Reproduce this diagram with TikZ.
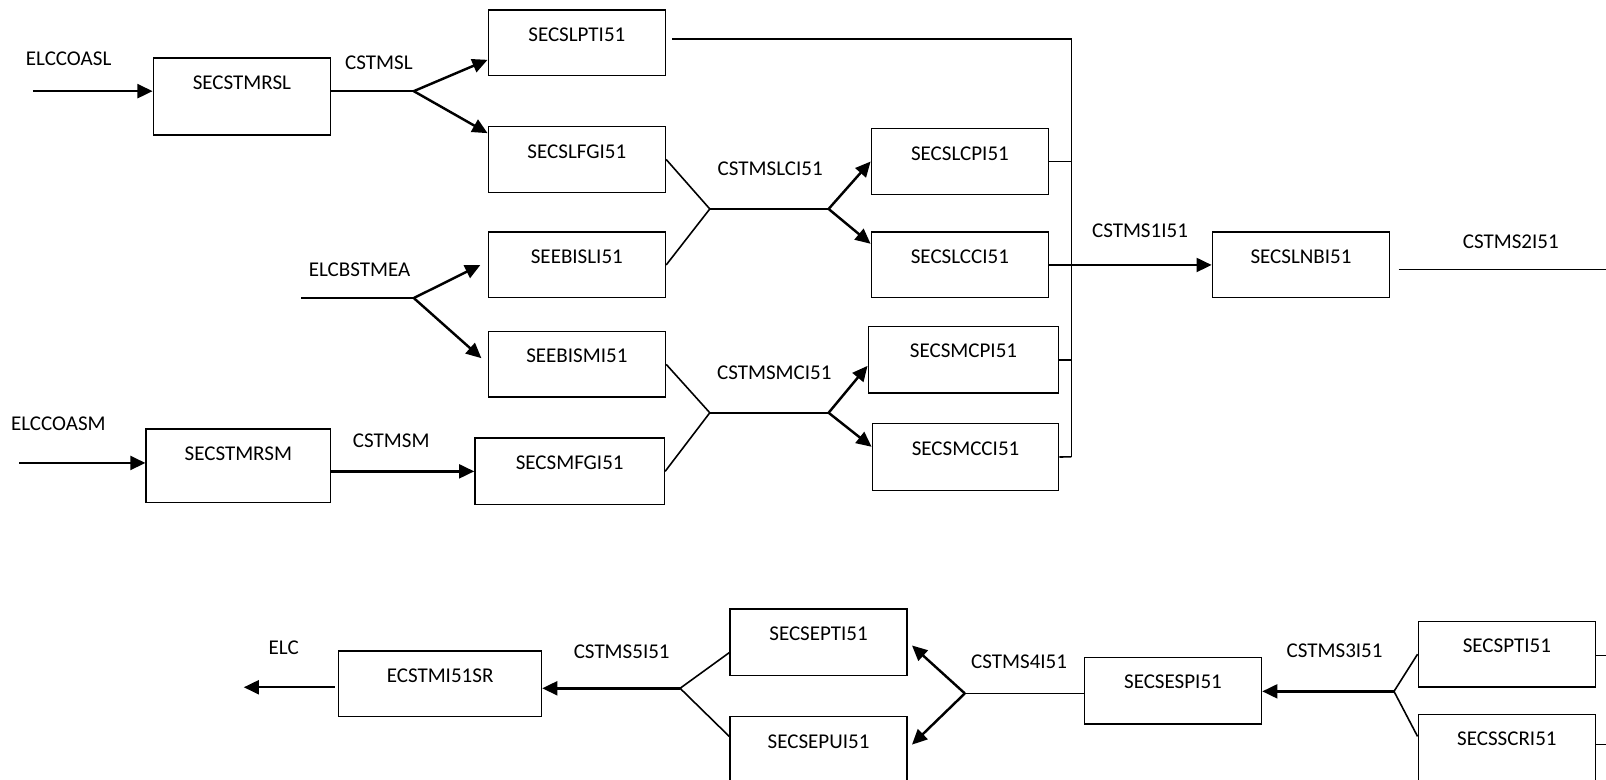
\documentclass[tikz,border=0pt]{standalone}
\usepackage{fontspec}
\setmainfont{Carlito}
\usepackage{tikz}
\usetikzlibrary{arrows.meta,positioning,calc}

\begin{document}
\begin{tikzpicture}[x=0.25mm, y=-0.25mm,
    font=\fontsize{14.6}{17}\selectfont,
    blk/.style={draw, line width=1pt, anchor=north west, inner xsep=0pt, inner ysep=0pt,
        minimum width=43.25mm, text height=7.65mm, text depth=8.35mm},
    lbl/.style={inner sep=0pt},
    thn/.style={line width=1.1pt},
    arr/.style={line width=1.7pt, -{Triangle[length=3.7mm,width=3.4mm]}}]
    \useasboundingbox (0,0) rectangle (1568,761);

    % Upper chain
    \node[blk, text depth=11.1mm] (stmrsl) at (149,56) {SECSTMRSL};
    \node[blk] (slpti) at (476,9) {SECSLPTI51};
    \node[blk] (slfgi) at (476,123) {SECSLFGI51};
    \node[blk] (ebisli) at (476,226) {SEEBISLI51};
    \node[blk] (ebismi) at (476,323) {SEEBISMI51};
    \node[blk, minimum width=46.25mm, text depth=8.6mm] (smfgi) at (463,427) {SECSMFGI51};
    \node[blk, minimum width=45mm, text depth=10.35mm] (stmrsm) at (142,418) {SECSTMRSM};
    \node[blk] (slcpi) at (850,125) {SECSLCPI51};
    \node[blk] (slcci) at (850,226) {SECSLCCI51};
    \node[blk, minimum width=46.5mm, text depth=8.6mm] (smcpi) at (847,318) {SECSMCPI51};
    \node[blk, minimum width=45.5mm, text depth=8.6mm] (smcci) at (851,413) {SECSMCCI51};
    \node[blk] (slnbi) at (1183,226) {SECSLNBI51};

    % Lower chain
    \node[blk, minimum width=49.5mm] (stmisr) at (330,635) {ECSTMI51SR};
    \node[blk, text depth=8.6mm] (septi) at (712,594) {SECSEPTI51};
    \node[blk, text depth=14.85mm] (sepui) at (712,699) {SECSEPUI51};
    \node[blk, text depth=8.6mm] (sespi) at (1058,641) {SECSESPI51};
    \node[blk] (spti) at (1384,606) {SECSPTI51};
    \node[blk, text depth=14.85mm] (sscri) at (1384,697) {SECSSCRI51};

    % Stream labels
    \foreach \nm/\x/\y in {ELCCOASL/67/57, CSTMSL/370/61, ELCBSTMEA/351/263,
        CSTMSLCI51/752/165, CSTMSMCI51/756/364, ELCCOASM/57/414, CSTMSM/382/430,
        CSTMS1I51/1113/225, CSTMS2I51/1475/236, ELC/277/632, CSTMS5I51/607/636,
        CSTMS4I51/995/646, CSTMS3I51/1303/635}
        \node[lbl] (\nm) at (\x,\y) {\nm};

    % Branch points and free ends
    \coordinate (in1) at (32,89);
    \coordinate (f1) at (404,89);
    \coordinate (in2) at (294,291);
    \coordinate (f2) at (404,291);
    \coordinate (f3) at (693,204);
    \coordinate (f4) at (809,204);
    \coordinate (f5) at (693,403);
    \coordinate (f6) at (809,403);
    \coordinate (in3) at (19,452);
    \coordinate (bt) at (1046,38);
    \coordinate (bb) at (1046,446);
    \coordinate (out2) at (1575,263);
    \coordinate (elc) at (238,671);
    \coordinate (f7) at (664,672);
    \coordinate (f8) at (942,677);
    \coordinate (f9) at (1361,675);
    \coordinate (r1) at (1575,640);
    \coordinate (r2) at (1575,727);

    % Upper connectors
    \draw[arr] (in1) -- (in1 -| stmrsl.west);
    \draw[thn] (f1 -| stmrsl.east) -- (f1);
    \draw[arr] (f1) -- ([yshift=4mm]slpti.south west);
    \draw[arr] (f1) -- ([yshift=-1.75mm]slfgi.north west);
    \draw[thn] ($(slpti.east |- bt)+(6,0)$) -- (bt) -- (bb);
    \draw[thn] (slcpi.east) -- (slcpi.east -| bt);
    \draw[thn] (smcpi.east) -- (smcpi.east -| bt);
    \draw[thn] (smcci.east) -- (bb);
    \draw[thn] (in2) -- (f2);
    \draw[arr] (f2) -- ([xshift=-1.75mm]ebisli.west);
    \draw[arr] (f2) -- ([xshift=-1.5mm,yshift=1.5mm]ebismi.west);
    \draw[thn] (slfgi.east) -- (f3) -- (ebisli.east);
    \draw[thn] (f3) -- (f4);
    \draw[arr] (f4) -- (slcpi.west);
    \draw[arr] (f4) -- ([yshift=-3mm]slcci.north west);
    \draw[thn] (ebismi.east) -- (f5) -- (smfgi.east);
    \draw[thn] (f5) -- (f6);
    \draw[arr] (f6) -- ([yshift=-1.5mm]smcpi.west);
    \draw[arr] (f6) -- ([yshift=2.5mm]smcci.west);
    \draw[arr] (slcci) -- (slnbi);
    \draw[thn] ($(slnbi.east |- out2)+(8,0)$) -- (out2);
    \draw[arr] (in3) -- (in3 -| stmrsm.west);
    \draw[arr] (stmrsm.east |- smfgi.west) -- (smfgi.west);

    % Lower connectors
    \draw[arr] ($(stmisr.west |- elc)+(-3,0)$) -- (elc);
    \draw[arr] (f7) -- (f7 -| stmisr.east);
    \draw[thn] ([yshift=-2.5mm]septi.west) -- (f7) -- ([yshift=-5mm]sepui.north west);
    \draw[arr] (f8) -- ([xshift=1mm,yshift=-0.75mm]septi.east);
    \draw[arr] (f8) -- ([xshift=1mm,yshift=-7mm]sepui.north east);
    \draw[thn] (f8) -- (f8 -| sespi.west);
    \draw[arr] (f9) -- (f9 -| sespi.east);
    \draw[thn] (spti.west) -- (f9) -- ([yshift=-5.5mm]sscri.north west);
    \draw[thn] (spti.east |- r1) -- (r1);
    \draw[thn] (sscri.east |- r2) -- (r2);
\end{tikzpicture}
\end{document}
